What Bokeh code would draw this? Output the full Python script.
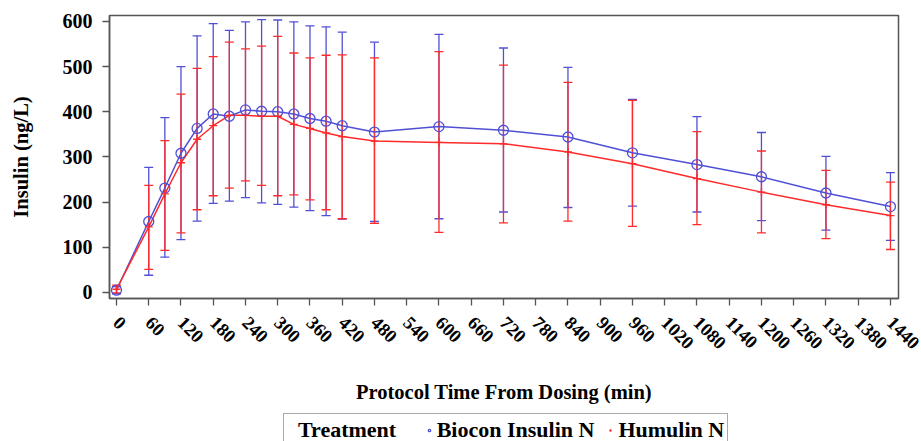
import math
from bokeh.plotting import figure
from bokeh.layouts import column
from bokeh.models import (ColumnDataSource, Whisker, TeeHead, Legend, LegendItem,
                          FixedTicker, Range1d)
from bokeh.embed import file_html
from bokeh.resources import INLINE

time = [0, 60, 90, 120, 150, 180, 210, 240, 270, 300, 330, 360, 390, 420,
        480, 600, 720, 840, 960, 1080, 1200, 1320, 1440]
biocon_mean = [5, 157, 231, 308, 363, 395, 390, 404, 401, 400, 395, 385, 379,
               369, 355, 367, 359, 344, 309, 283, 256, 220, 190]
biocon_upper = [13, 277, 387, 500, 568, 595, 580, 599, 604, 603, 599, 590, 588,
                576, 554, 571, 541, 498, 427, 389, 354, 301, 265]
biocon_lower = [-3, 38, 78, 117, 158, 197, 202, 210, 198, 195, 189, 181, 170,
                162, 157, 163, 178, 188, 191, 178, 159, 138, 115]
humulin_mean = [7, 145, 218, 287, 339, 369, 392, 392, 390, 390, 372, 363, 353,
                345, 335, 332, 329, 311, 285, 252, 222, 194, 170]
humulin_upper = [16, 237, 336, 439, 496, 522, 554, 539, 545, 567, 530, 519, 525,
                 526, 519, 533, 503, 465, 425, 356, 313, 270, 244]
humulin_lower = [-1, 51, 93, 132, 183, 214, 231, 247, 237, 214, 216, 205, 183,
                 163, 153, 133, 154, 158, 146, 150, 132, 119, 95]
x_ticks = list(range(0, 1441, 60))
y_ticks = [0, 100, 200, 300, 400, 500, 600]
series_names = ["Biocon Insulin N", "Humulin N"]
legend_title = "Treatment"

BLUE = "#5050d6"
RED = "#ff2b2b"
FONT = "Liberation Serif"
GREY = "#555555"
NAN = float("nan")

src_b = ColumnDataSource(dict(t=time, m=biocon_mean, u=biocon_upper, l=biocon_lower))
src_h = ColumnDataSource(dict(t=time, m=humulin_mean, u=humulin_upper, l=humulin_lower))

p = figure(width=921, height=413, output_backend="svg", toolbar_location=None,
           x_range=Range1d(-13, 1455), y_range=Range1d(-13.5, 613),
           min_border_left=109, min_border_right=23, min_border_top=15,
           min_border_bottom=115)
p.grid.visible = False
p.outline_line_color = GREY
p.outline_line_width = 1.5

for src, col in ((src_b, BLUE), (src_h, RED)):
    w = Whisker(base="t", upper="u", lower="l", source=src, line_color=col,
                line_width=1.3,
                upper_head=TeeHead(size=9, line_color=col, line_width=1.3),
                lower_head=TeeHead(size=9, line_color=col, line_width=1.3))
    p.add_layout(w)

p.line("t", "m", source=src_b, line_color=BLUE, line_width=1.5)
p.line("t", "m", source=src_h, line_color=RED, line_width=1.5)
p.scatter("t", "m", source=src_b, marker="circle", size=10, fill_color=None,
          line_color=BLUE, line_width=1.3)
p.scatter("t", "m", source=src_h, marker="cross", size=8, line_color=RED,
          line_width=1.3)

p.xaxis.ticker = FixedTicker(ticks=x_ticks)
p.yaxis.ticker = FixedTicker(ticks=y_ticks)
p.xaxis.major_label_orientation = -math.pi / 4
for ax in (p.xaxis, p.yaxis):
    ax.major_tick_in = 0
    ax.major_tick_out = 7
    ax.minor_tick_out = 0
    ax.minor_tick_in = 0
    ax.axis_line_color = GREY
    ax.axis_line_width = 1.5
    ax.major_tick_line_color = GREY
    ax.major_tick_line_width = 1.3
    ax.major_label_text_font = FONT
    ax.major_label_text_font_style = "bold"
    ax.major_label_text_font_size = "20px"
    ax.major_label_text_color = "black"
    ax.axis_label_text_font = FONT
    ax.axis_label_text_font_style = "bold"
    ax.axis_label_text_font_size = "20.5px"
    ax.axis_label_text_color = "black"
p.xaxis.major_label_text_font_size = "18.5px"
p.xaxis.axis_label = "Protocol Time From Dosing (min)"
p.yaxis.axis_label = "Insulin (ng/L)"
p.xaxis.major_label_standoff = 14
p.yaxis.major_label_standoff = 10
p.xaxis.axis_label_standoff = 23
p.yaxis.axis_label_standoff = 28

# legend strip
q = figure(width=921, height=28, output_backend="svg", toolbar_location=None,
           x_range=Range1d(0, 1), y_range=Range1d(0, 1),
           x_axis_location=None, y_axis_location=None, min_border=0)
q.grid.visible = False
q.outline_line_color = None
lg_t = q.scatter(x=[NAN], y=[NAN], marker="circle", size=1, fill_alpha=0, line_alpha=0)
lg_b = q.scatter(x=[NAN], y=[NAN], marker="circle", size=6, fill_color=None,
                 line_color=BLUE, line_width=1.3)
lg_h = q.scatter(x=[NAN], y=[NAN], marker="cross", size=7, line_color=RED,
                 line_width=1.3)

legend = Legend(items=[LegendItem(label=legend_title + "\u00a0\u00a0\u00a0", renderers=[lg_t]),
                       LegendItem(label=series_names[0], renderers=[lg_b]),
                       LegendItem(label=series_names[1], renderers=[lg_h])],
                orientation="horizontal", location=(174, -6))
legend.label_text_font = FONT
legend.label_text_font_style = "bold"
legend.label_text_font_size = "22px"
legend.label_text_color = "black"
legend.glyph_width = 6
legend.glyph_height = 22
legend.label_height = 22
legend.label_standoff = 5
legend.spacing = 13
legend.padding = 3
legend.margin = 0
legend.border_line_color = GREY
legend.border_line_width = 1.5
legend.background_fill_alpha = 1
q.add_layout(legend, "center")

layout = column(p, q, spacing=0)
open("out.html", "w").write(file_html(layout, INLINE))
